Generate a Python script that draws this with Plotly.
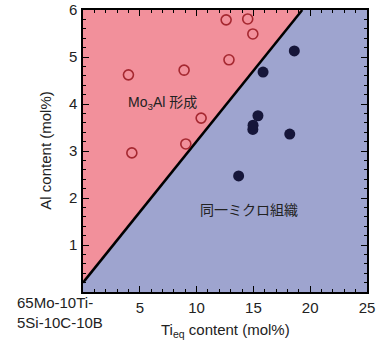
import plotly.graph_objects as go

# Boundary line (Ti_eq vs Al)
boundary_x = [0.0, 19.3]
boundary_y = [0.2, 6.0]

# Mo3Al-forming alloys (open circles)
open_x = [4.0, 4.3, 8.9, 9.05, 10.4, 12.6, 12.85, 14.5, 14.95]
open_y = [4.62, 2.96, 4.72, 3.15, 3.70, 5.79, 4.94, 5.81, 5.49]

# Same-microstructure alloys (filled circles)
fill_x = [13.7, 14.95, 14.97, 15.4, 15.85, 18.2, 18.6]
fill_y = [2.47, 3.46, 3.55, 3.75, 4.68, 3.36, 5.13]

x_range = [0, 25]
y_range = [0, 6]
x_ticks = [5, 10, 15, 20, 25]
y_ticks = [1, 2, 3, 4, 5, 6]

RED = "rgb(242,144,155)"
BLUE = "rgb(158,164,207)"
FONT = "Liberation Sans, Arial, Noto Sans CJK JP, sans-serif"
TXT = "#222"

fig = go.Figure()

# red region (above line)
fig.add_trace(go.Scatter(
    x=[x_range[0], boundary_x[0], boundary_x[1], x_range[0]],
    y=[y_range[1], boundary_y[0], boundary_y[1], y_range[1]],
    fill="toself", fillcolor=RED, mode="none", hoverinfo="skip", showlegend=False))
# blue region (below line)
fig.add_trace(go.Scatter(
    x=[x_range[0], boundary_x[0], boundary_x[1], x_range[1], x_range[1], x_range[0]],
    y=[y_range[0], boundary_y[0], boundary_y[1], y_range[1], y_range[0], y_range[0]],
    fill="toself", fillcolor=BLUE, mode="none", hoverinfo="skip", showlegend=False))
# boundary line
fig.add_trace(go.Scatter(x=boundary_x, y=boundary_y, mode="lines",
                         line=dict(color="black", width=2.5), showlegend=False))
# open circles
fig.add_trace(go.Scatter(x=open_x, y=open_y, mode="markers",
                         marker=dict(symbol="circle-open", size=10,
                                     color="rgb(165,40,48)", line=dict(width=1.6)),
                         showlegend=False))
# filled circles
fig.add_trace(go.Scatter(x=fill_x, y=fill_y, mode="markers",
                         marker=dict(symbol="circle", size=11, color="rgb(22,22,58)"),
                         showlegend=False))

axis_common = dict(showline=True, linecolor="black", linewidth=1.5, mirror="allticks",
                   ticks="inside", ticklen=6, tickcolor="black", tickwidth=1.2,
                   showgrid=False, zeroline=False, automargin=False,
                   tickfont=dict(family=FONT, size=15, color=TXT))

fig.update_xaxes(range=x_range, tickvals=x_ticks, **axis_common,
                 minor=dict(ticks="inside", dtick=1, ticklen=3.5, tickcolor="black", tickwidth=1),
                 ticklabelstandoff=1)
fig.update_yaxes(range=y_range, tickvals=y_ticks, **axis_common,
                 minor=dict(ticks="inside", dtick=0.2, ticklen=3.5, tickcolor="black", tickwidth=1),
                 ticklabelstandoff=1)

# axis titles
fig.add_annotation(xref="paper", yref="paper", x=0.5, y=-0.137, yanchor="middle",
                   showarrow=False, text="Ti<sub>eq</sub> content (mol%)",
                   font=dict(family=FONT, size=15, color=TXT))
fig.add_annotation(xref="paper", yref="paper", x=-0.135, y=0.5, textangle=-90,
                   xanchor="center", yanchor="middle",
                   showarrow=False, text="Al content (mol%)",
                   font=dict(family=FONT, size=15, color=TXT))

fig.add_annotation(x=7.0, y=4.02, text="Mo<sub>3</sub>Al 形成", showarrow=False,
                   font=dict(family=FONT, size=14, color=TXT))
fig.add_annotation(x=14.6, y=1.74, text="同一ミクロ組織", showarrow=False,
                   font=dict(family=FONT, size=14, color=TXT))
fig.add_annotation(xref="paper", yref="paper", x=-0.24, y=-0.074, xanchor="left",
                   yanchor="middle", align="left", showarrow=False,
                   text="65Mo-10Ti-<br>5Si-10C-10B",
                   font=dict(family=FONT, size=15, color=TXT))

fig.update_layout(width=380, height=347, margin=dict(l=83, r=13, t=10, b=55),
                  paper_bgcolor="white", plot_bgcolor="white")

fig.write_html("out.html", config={"displayModeBar": False},
               post_script="document.body.style.margin='0';")
